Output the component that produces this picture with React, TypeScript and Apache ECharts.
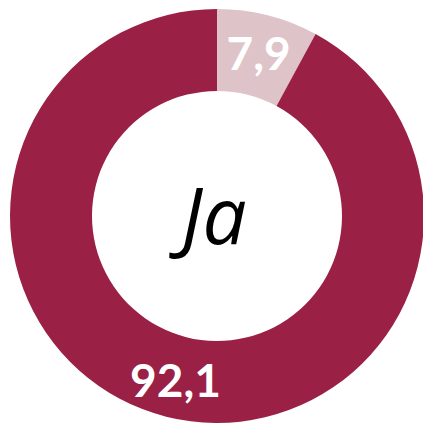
import React, { useEffect, useRef } from "react";
import * as echarts from "echarts";

const categories = ["Nein", "Ja"];
const values = [7.9, 92.1];
const colors = ["#DEC3C8", "#9B2046"];
const centerLabel = "Ja";

export default function App() {
  const ref = useRef<HTMLDivElement>(null);
  useEffect(() => {
    const chart = echarts.init(ref.current!, null, { renderer: "svg" });
    chart.setOption({
      animation: false,
      series: [
        {
          type: "pie",
          center: [217, 216],
          radius: [125, 207],
          startAngle: 90,
          clockwise: true,
          avoidLabelOverlap: false,
          label: {
            show: true,
            position: "inside",
            color: "#ffffff",
            fontFamily: "Lato",
            fontWeight: "bold",
            fontSize: 46,
            formatter: (p: any) => String(p.value).replace(".", ","),
          },
          labelLine: { show: false },
          emphasis: { disabled: true },
          data: categories.map((c, i) => ({
            name: c,
            value: values[i],
            itemStyle: { color: colors[i] },
          })),
        },
      ],
      graphic: [
        {
          type: "text",
          x: 214,
          y: 214,
          style: {
            text: centerLabel,
            fontFamily: "Open Sans",
            fontStyle: "italic",
            fontSize: 78,
            fill: "#000000",
            textAlign: "center",
            textVerticalAlign: "middle",
          },
        },
      ],
    });
    return () => chart.dispose();
  }, []);
  return (
    <div
      ref={ref}
      style={{ position: "absolute", left: 0, top: 0, width: 423, height: 424 }}
    />
  );
}
